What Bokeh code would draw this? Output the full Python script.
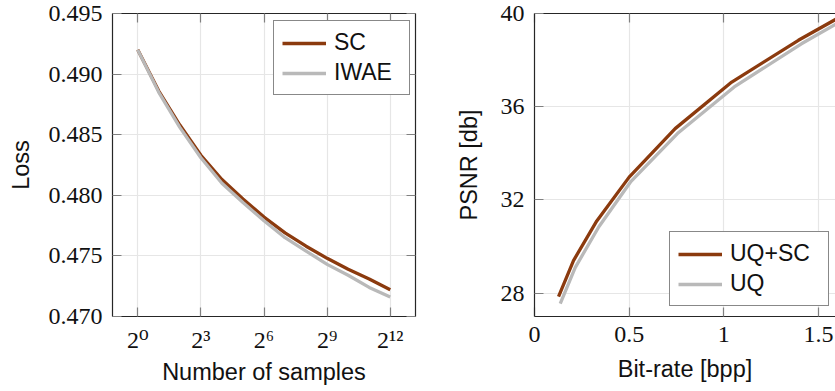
from bokeh.plotting import figure
from bokeh.layouts import row
from bokeh.models import (Range1d, FixedTicker, LinearAxis, LogAxis, Legend, LegendItem,
                          NumeralTickFormatter)
from bokeh.embed import file_html
from bokeh.resources import INLINE

# ---------------- data ----------------
samples = [1, 2, 4, 8, 16, 32, 64, 128, 256, 512, 1024, 2048, 4096]
loss_sc = [0.4920, 0.4886, 0.4858, 0.4833, 0.4813, 0.4797, 0.4782, 0.4769, 0.4758, 0.4748, 0.4739, 0.4731, 0.4722]
loss_iwae = [0.4920, 0.4885, 0.4856, 0.4831, 0.4810, 0.4794, 0.4779, 0.4765, 0.4754, 0.4743, 0.4734, 0.4724, 0.4716]
left_xticks = [1, 8, 64, 512, 4096]
left_xlabels = ["2⁰", "2³", "2⁶", "2⁹", "2¹²"]
left_yticks = [0.470, 0.475, 0.480, 0.485, 0.490, 0.495]

bpp_uqsc = [0.127, 0.206, 0.329, 0.50, 0.743, 1.042, 1.394, 1.62]
psnr_uqsc = [27.85, 29.4, 31.1, 32.98, 35.06, 37.06, 38.85, 39.88]
bpp_uq = [0.136, 0.215, 0.340, 0.51, 0.755, 1.055, 1.41, 1.63]
psnr_uq = [27.55, 29.1, 30.85, 32.8, 34.85, 36.85, 38.7, 39.72]
right_xticks = [0, 0.5, 1, 1.5]
right_xlabels = ["0", "0.5", "1", "1.5"]
right_yticks = [28, 32, 36, 40]

BROWN = "#8B3A0E"
GRAY = "#b9b9b9"
SERIF = "Liberation Serif, DejaVu Serif"
SANS = "Liberation Sans"
TICK_FS = "24px"
LAB_FS = "23.5px"
LEG_FS = "23px"
FRAME = "#262626"
TICKC = "#808080"


def style_axis(ax, labels=True):
    ax.axis_line_color = FRAME
    ax.axis_line_width = 1.2
    ax.major_tick_in = 9
    ax.major_tick_out = 0
    ax.major_tick_line_color = TICKC
    ax.major_tick_line_width = 1.2
    ax.minor_tick_line_color = None
    ax.major_label_text_font = SERIF
    if labels:
        ax.major_label_text_color = "#111111"
        ax.major_label_text_font_size = TICK_FS
        ax.major_label_standoff = 10
    else:
        ax.major_label_text_color = None
        ax.major_label_text_font_size = "1px"
        ax.major_label_standoff = 0
    ax.axis_label_text_font = SANS
    ax.axis_label_text_font_size = LAB_FS
    ax.axis_label_text_font_style = "normal"
    ax.axis_label_text_color = "#111111"


def make_fig(x_range, y_range, width, border_left, border_right, x_axis_type="linear"):
    p = figure(width=width, height=391, x_range=x_range, y_range=y_range,
               x_axis_type=x_axis_type, output_backend="svg", toolbar_location=None,
               min_border_left=border_left, min_border_right=border_right,
               min_border_top=13, min_border_bottom=75)
    p.outline_line_color = None
    p.background_fill_color = "white"
    p.border_fill_color = "white"
    p.xgrid.grid_line_color = "#e6e6e6"
    p.ygrid.grid_line_color = "#e6e6e6"
    p.xgrid.grid_line_width = 1.2
    p.ygrid.grid_line_width = 1.2
    return p


# ---------------- left plot ----------------
p1 = make_fig(Range1d(2 ** -1.2, 2 ** 13.2), Range1d(0.470, 0.495), 425, 112, 10, "log")
p1.xaxis.ticker = FixedTicker(ticks=left_xticks)
p1.xaxis.major_label_overrides = dict(zip(left_xticks, left_xlabels))
p1.yaxis.ticker = FixedTicker(ticks=left_yticks)
p1.yaxis.formatter = NumeralTickFormatter(format="0.000")
p1.xgrid.ticker = FixedTicker(ticks=left_xticks)
p1.ygrid.ticker = FixedTicker(ticks=left_yticks)
p1.xaxis.axis_label = "Number of samples"
p1.yaxis.axis_label = "Loss"
style_axis(p1.xaxis[0])
style_axis(p1.yaxis[0])
p1.xaxis.axis_label_standoff = 3
p1.yaxis.axis_label_standoff = 12

top1 = LogAxis(ticker=FixedTicker(ticks=left_xticks))
style_axis(top1, labels=False)
p1.add_layout(top1, "above")
right1 = LinearAxis(ticker=FixedTicker(ticks=left_yticks))
style_axis(right1, labels=False)
p1.add_layout(right1, "right")

r_sc = p1.line(samples, loss_sc, line_color=BROWN, line_width=3.3)
r_iwae = p1.line(samples, loss_iwae, line_color=GRAY, line_width=3.3)

leg1 = Legend(items=[LegendItem(label="SC", renderers=[r_sc]),
                     LegendItem(label="IWAE", renderers=[r_iwae])],
              location=(161, 221), label_width=67)
p1.add_layout(leg1, "center")

# ---------------- right plot ----------------
p2 = make_fig(Range1d(0, 1.59), Range1d(27, 40), 410, 109, 0)
p2.xaxis.ticker = FixedTicker(ticks=right_xticks)
p2.xaxis.major_label_overrides = dict(zip(right_xticks, right_xlabels))
p2.yaxis.ticker = FixedTicker(ticks=right_yticks)
p2.xgrid.ticker = FixedTicker(ticks=right_xticks)
p2.ygrid.ticker = FixedTicker(ticks=right_yticks)
p2.xaxis.axis_label = "Bit-rate [bpp]"
p2.yaxis.axis_label = "PSNR [db]"
style_axis(p2.xaxis[0])
style_axis(p2.yaxis[0])
p2.xaxis.axis_label_standoff = 11
p2.yaxis.axis_label_standoff = 16

top2 = LinearAxis(ticker=FixedTicker(ticks=right_xticks))
style_axis(top2, labels=False)
p2.add_layout(top2, "above")

r_uqsc = p2.line(bpp_uqsc, psnr_uqsc, line_color=BROWN, line_width=3.3)
r_uq = p2.line(bpp_uq, psnr_uq, line_color=GRAY, line_width=3.3)

leg2 = Legend(items=[LegendItem(label="UQ+SC", renderers=[r_uqsc]),
                     LegendItem(label="UQ", renderers=[r_uq])],
              location=(135, 10), label_width=90)
p2.add_layout(leg2, "center")

for leg in (leg1, leg2):
    leg.label_text_font = SANS
    leg.label_text_font_size = LEG_FS
    leg.label_text_color = "#111111"
    leg.glyph_width = 44
    leg.glyph_height = 24
    leg.label_height = 24
    leg.label_standoff = 8
    leg.spacing = 3
    leg.padding = 8
    leg.margin = 0
    leg.border_line_color = "#111111"
    leg.border_line_width = 1.2
    leg.background_fill_alpha = 1.0

layout = row(p1, p2)
open("out.html", "w").write(file_html(layout, INLINE))
